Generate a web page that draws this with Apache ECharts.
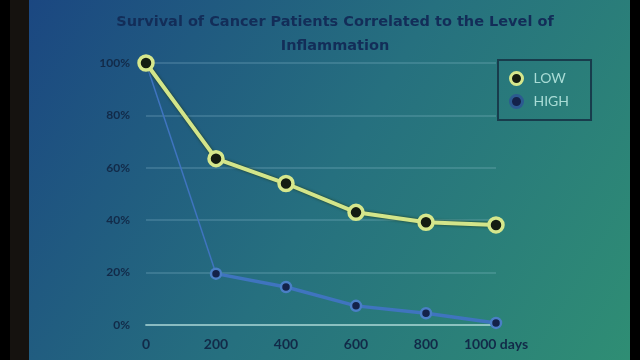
<!DOCTYPE html>
<html>
<head>
<meta charset="utf-8">
<script src="https://cdn.jsdelivr.net/npm/echarts@6/dist/echarts.min.js"></script>
<style>html,body{margin:0;padding:0;background:#000;}#c{width:640px;height:360px;}</style>
</head>
<body>
<div id="c"></div>
<script>
const days = [0, 200, 400, 600, 800, 1000];
const lowValues = [100, 63.5, 54, 43, 39.2, 38.2];
const highValues = [100, 19.6, 14.5, 7.3, 4.5, 0.8];
const yTicks = [0, 20, 40, 60, 80, 100];
const titleText = 'Survival of Cancer Patients Correlated to the Level of\nInflammation';

const chart = echarts.init(document.getElementById('c'), null, {renderer: 'canvas'});
const lowData = days.map((d, i) => [d, lowValues[i]]);
const highData = days.map((d, i) => [d, highValues[i]]);
const highThick = days.map((d, i) => [d, i === 0 ? null : highValues[i]]);

chart.setOption({
  backgroundColor: '#000',
  animation: false,
  graphic: [
    {type: 'rect', z: -10, shape: {x: 10, y: 0, width: 19, height: 360}, style: {fill: '#15120f'}},
    {type: 'rect', z: -10, shape: {x: 29, y: 0, width: 601, height: 360},
     style: {fill: new echarts.graphic.LinearGradient(0, 0, 1, 1, [
       {offset: 0, color: '#1b4781'},
       {offset: 0.5, color: '#26707f'},
       {offset: 1, color: '#2f8e74'}
     ])}}
  ],
  title: {
    text: titleText,
    left: 330, top: 5, textAlign: 'center',
    textStyle: {fontFamily: 'DejaVu Sans', fontSize: 14.5, fontWeight: 'bold', color: '#132d58', lineHeight: 24}
  },
  legend: {
    orient: 'vertical', left: 498, top: 60,
    padding: [11, 22, 11, 11], itemGap: 8,
    itemWidth: 12, itemHeight: 12,
    borderColor: '#183c4c', borderWidth: 2,
    textStyle: {color: '#a9dcd6', fontSize: 14, fontFamily: 'Lato', padding: [0, 0, 0, 6]},
    icon: 'circle',
    data: [
      {name: 'LOW', itemStyle: {color: '#141c12', borderColor: '#d6e78c', borderWidth: 3}},
      {name: 'HIGH', itemStyle: {color: '#14224a', borderColor: '#2c5a90', borderWidth: 3}}
    ]
  },
  grid: {left: 146, right: 144, top: 63, bottom: 35},
  xAxis: {
    type: 'value', min: 0, max: 1000, interval: 200,
    axisLine: {show: true, lineStyle: {color: 'rgba(190,230,225,0.6)', width: 2}},
    axisTick: {show: false},
    splitLine: {show: false},
    axisLabel: {margin: 12, color: '#122a48', fontSize: 14, fontWeight: 'bold', fontFamily: 'Lato',
      formatter: v => v === 1000 ? v + ' days' : String(v)}
  },
  yAxis: {
    type: 'value', min: 0, max: 100, interval: 20,
    axisLine: {show: false}, axisTick: {show: false},
    splitLine: {lineStyle: {color: 'rgba(170,215,230,0.25)', width: 1.5}},
    axisLabel: {margin: 16, color: '#122a48', fontSize: 12, fontWeight: 'bold', fontFamily: 'Lato', formatter: v => v + '%'}
  },
  series: [
    {
      name: 'HIGH', type: 'line', data: highData, z: 2,
      symbol: 'none',
      lineStyle: {color: '#3f74bf', width: 1.5}
    },
    {
      name: 'HIGH', type: 'line', data: highThick, z: 3, legendHoverLink: false,
      symbol: 'circle', symbolSize: 10,
      itemStyle: {color: '#14224a', borderColor: '#4a7fc6', borderWidth: 2.5},
      lineStyle: {color: '#3f74bf', width: 3.5}
    },
    {
      name: 'LOW', type: 'line', data: lowData, z: 4,
      symbol: 'circle', symbolSize: 14,
      itemStyle: {color: '#141c12', borderColor: '#d6e78c', borderWidth: 3.5},
      lineStyle: {color: '#d3e58a', width: 4, shadowColor: 'rgba(30,50,10,0.8)', shadowBlur: 3}
    }
  ]
});
</script>
</body>
</html>
